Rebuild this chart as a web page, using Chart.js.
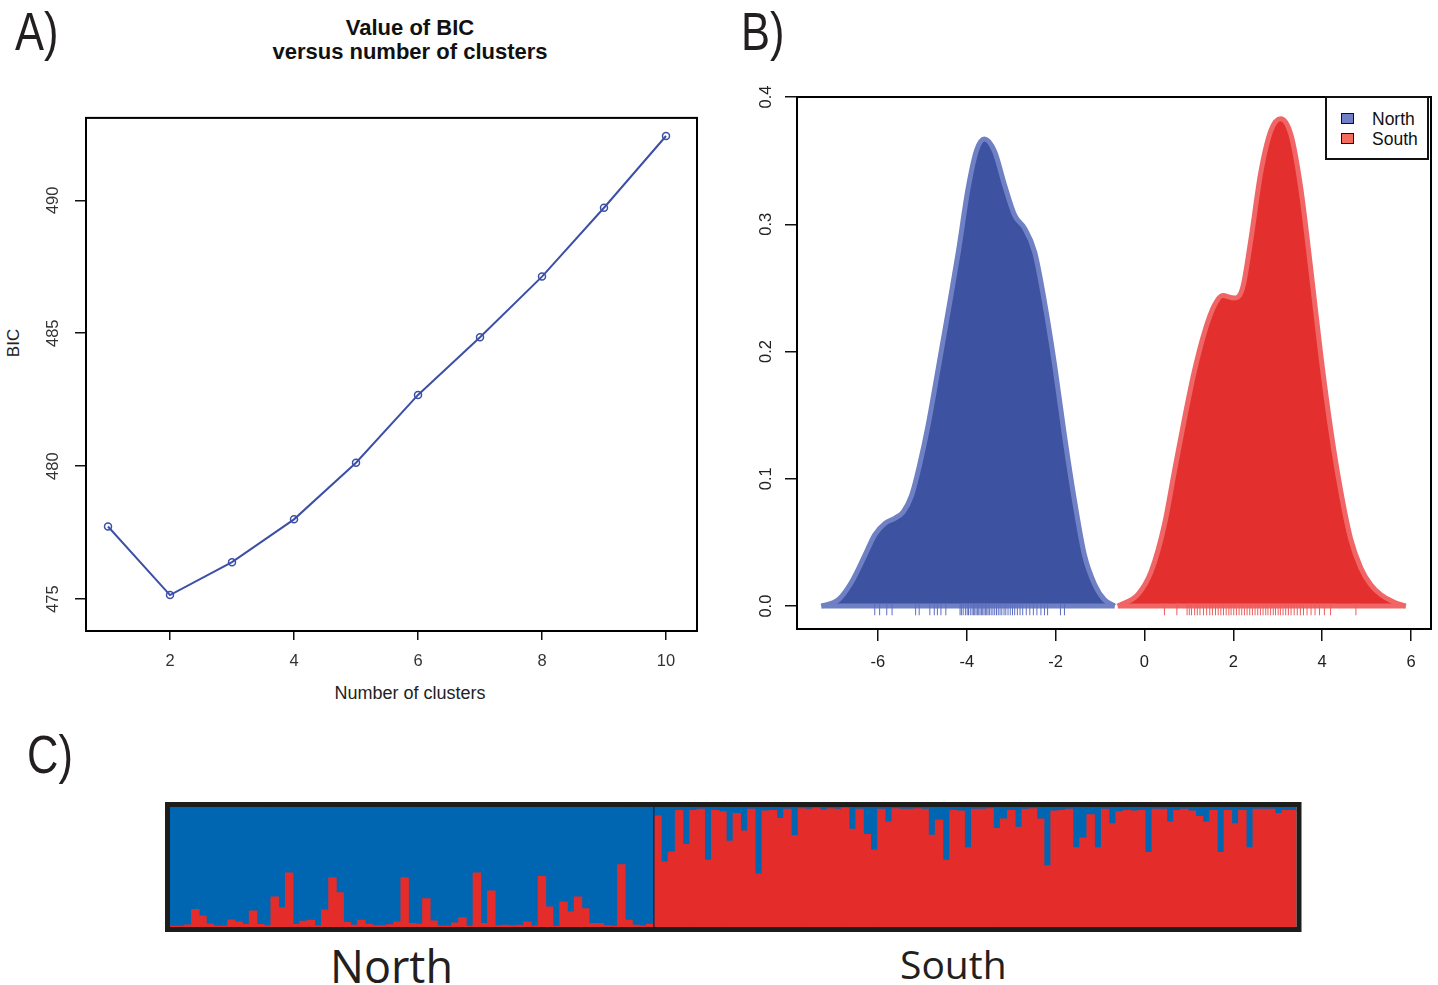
<!DOCTYPE html>
<html>
<head>
<meta charset="utf-8">
<title>BIC, density and ancestry</title>
<script src="https://cdn.jsdelivr.net/npm/chart.js@4.4.1/dist/chart.umd.min.js"></script>
<style>
  body { margin: 0; background: #fff; }
  #page { position: relative; width: 1438px; height: 985px; overflow: hidden; font-family: "Liberation Sans", Arial, sans-serif; color: #111; }
  canvas { position: absolute; }
  .tag { position: absolute; font-size: 53px; line-height: 53px; color: #231f20; transform: scaleX(0.82); transform-origin: left top; }
  .title-a { position: absolute; left: 0; width: 820px; top: 16px; text-align: center; font-weight: bold; font-size: 22px; line-height: 24px; color: #111; }
  .xlab-a { position: absolute; left: 0; width: 820px; top: 684px; text-align: center; font-size: 18px; line-height: 18px; color: #222; }
  .ylab-a { position: absolute; left: -16px; top: 334px; width: 60px; height: 18px; text-align: center; font-size: 17px; line-height: 18px; color: #222; transform: rotate(-90deg); }
  .legend { position: absolute; left: 1325px; top: 96px; width: 100px; height: 60px; border: 2px solid #111; background: #fff; font-size: 17.5px; color: #111; }
  .legend .item { position: absolute; left: 0; height: 20px; line-height: 20px; }
  .legend .sw { position: absolute; left: 14px; top: 4px; width: 11px; height: 9px; border: 1.5px solid #111; }
  .legend .txt { position: absolute; left: 45px; top: 0; white-space: nowrap; }
  .pop { position: absolute; font-family: "Open Sans", sans-serif; color: #231f20; line-height: 1; }
</style>
</head>
<body>
<div id="page">
  <div class="tag" style="left:15px; top:5px;">A)</div>
  <div class="tag" style="left:741px; top:5px;">B)</div>
  <div class="tag" style="left:27px; top:728px;">C)</div>

  <div class="title-a">Value of BIC<br>versus number of clusters</div>
  <div class="xlab-a">Number of clusters</div>
  <div class="ylab-a">BIC</div>

  <canvas id="bicChart" width="720" height="620" style="left:0; top:100px;"></canvas>
  <canvas id="densChart" width="718" height="640" style="left:720px; top:60px;"></canvas>

  <div class="legend">
    <div class="item" style="top:11px;"><span class="sw" style="background:#6f7fc6;"></span><span class="txt">North</span></div>
    <div class="item" style="top:31px;"><span class="sw" style="background:#f26b5b;"></span><span class="txt">South</span></div>
  </div>

  <canvas id="structureChart" width="1150" height="140" style="left:160px; top:795px;"></canvas>

  <div class="pop" style="left:330px; top:943px; font-size:45px;">North</div>
  <div class="pop" style="left:900px; top:944px; font-size:39px;">South</div>
</div>

<script>
// Panel A: BIC per number of clusters
const clusterCounts = [1, 2, 3, 4, 5, 6, 7, 8, 9, 10];
const bicValues = [477.73, 475.15, 476.39, 478.0, 480.13, 482.68, 484.85, 487.13, 489.72, 492.42];
const bicTicksX = [2, 4, 6, 8, 10];
const bicTicksY = [475, 480, 485, 490];

// Panel B: density of the discriminant function per group
const northX = [-7.27, -6.89, -6.59, -6.29, -6.07, -5.84, -5.62, -5.43, -5.24, -5.06, -4.87, -4.64, -4.42, -4.19, -3.97,
  -3.78, -3.6, -3.37, -3.15, -2.92, -2.7, -2.47, -2.25, -2.02, -1.8, -1.57, -1.35, -1.12, -0.9, -0.67];
const northY = [0, 0.005, 0.019, 0.04, 0.056, 0.065, 0.069, 0.074, 0.087, 0.111, 0.142, 0.187, 0.231, 0.278, 0.328,
  0.358, 0.367, 0.357, 0.331, 0.307, 0.297, 0.278, 0.239, 0.189, 0.134, 0.082, 0.04, 0.017, 0.005, 0];
const southX = [-0.6, -0.15, 0.15, 0.45, 0.67, 0.9, 1.12, 1.35, 1.57, 1.76, 2.02, 2.21, 2.4, 2.62,
  2.85, 3.07, 3.3, 3.52, 3.75, 3.97, 4.2, 4.42, 4.64, 4.87, 5.09, 5.32, 5.62, 5.88];
const southY = [0, 0.009, 0.027, 0.064, 0.105, 0.147, 0.184, 0.215, 0.236, 0.244, 0.242, 0.25, 0.289, 0.341,
  0.374, 0.383, 0.37, 0.328, 0.263, 0.197, 0.137, 0.09, 0.053, 0.03, 0.017, 0.009, 0.003, 0];
const northRug = [-6.07, -5.96, -5.8, -5.68, -5.15, -5.07, -4.83, -4.73, -4.66, -4.58, -4.47, -4.15, -4.12, -4.08,
  -4.03, -3.99, -3.96, -3.92, -3.88, -3.85, -3.82, -3.79, -3.76, -3.73, -3.7, -3.67, -3.64, -3.61, -3.58, -3.55,
  -3.52, -3.49, -3.45, -3.41, -3.37, -3.33, -3.29, -3.25, -3.21, -3.16, -3.12, -3.07, -3.02, -2.97, -2.92, -2.86,
  -2.8, -2.74, -2.66, -2.58, -2.5, -2.42, -2.33, -2.25, -2.18, -1.89, -1.8];
const southRug = [0.45, 0.73, 0.96, 1.01, 1.06, 1.13, 1.19, 1.25, 1.33, 1.4, 1.47, 1.53, 1.6, 1.66, 1.72, 1.78,
  1.84, 1.9, 1.95, 2.01, 2.07, 2.13, 2.19, 2.25, 2.31, 2.37, 2.43, 2.49, 2.55, 2.61, 2.67, 2.73, 2.78, 2.84, 2.9,
  2.95, 3.01, 3.06, 3.12, 3.18, 3.24, 3.3, 3.37, 3.44, 3.51, 3.58, 3.66, 3.75, 3.84, 3.94, 4.05, 4.19, 4.76];
const densTicksX = [-6, -4, -2, 0, 2, 4, 6];
const densTicksY = [0, 0.1, 0.2, 0.3, 0.4];

// Panel C: share of the "South" cluster per individual
const northRed = [0.005, 0.005, 0.015, 0.145, 0.09, 0.025, 0.008, 0.005, 0.058, 0.04,
  0.02, 0.133, 0.02, 0.01, 0.25, 0.16, 0.45, 0.02, 0.047, 0.055,
  0.008, 0.14, 0.41, 0.285, 0.036, 0.014, 0.055, 0.022, 0.01, 0.01,
  0.017, 0.04, 0.41, 0.028, 0.025, 0.235, 0.05, 0.008, 0.005, 0.033,
  0.077, 0.005, 0.45, 0.028, 0.3, 0.01, 0.014, 0.01, 0.014, 0.04,
  0.008, 0.42, 0.166, 0.005, 0.207, 0.124, 0.25, 0.152, 0.028, 0.028,
  0.01, 0.005, 0.517, 0.055, 0.014, 0.008, 0.022];
const southRed = [0.925, 0.54, 0.625, 0.97, 0.686, 0.97, 0.98, 0.556, 0.97, 0.96,
  0.714, 0.945, 0.8, 0.98, 0.44, 0.965, 0.97, 0.903, 0.98, 0.76,
  0.985, 0.98, 0.99, 0.975, 0.985, 0.98, 0.99, 0.814, 0.98, 0.77,
  0.64, 0.98, 0.875, 0.985, 0.98, 0.98, 0.985, 0.98, 0.764, 0.89,
  0.556, 0.97, 0.965, 0.66, 0.98, 0.98, 0.985, 0.82, 0.9, 0.97,
  0.83, 0.98, 0.985, 0.9, 0.51, 0.965, 0.97, 0.98, 0.66, 0.74,
  0.935, 0.66, 0.98, 0.86, 0.96, 0.97, 0.965, 0.97, 0.62, 0.98,
  0.98, 0.875, 0.97, 0.98, 0.965, 0.92, 0.875, 0.97, 0.62, 0.97,
  0.86, 0.97, 0.66, 0.98, 0.98, 0.98, 0.945, 0.97, 0.97];

const RUG_LEVEL = -0.0025;

Chart.defaults.font.family = '"Liberation Sans", Arial, sans-serif';
Chart.defaults.animation = false;

// box around the plot region, like R's bty="o"
const framePlugin = {
  id: "frame",
  afterDraw(chart, args, opts) {
    const { ctx, chartArea: a } = chart;
    const w = opts.width || 2;
    const off = opts.outside ? w / 2 : 0;
    ctx.save();
    ctx.strokeStyle = opts.color || "#000";
    ctx.lineWidth = w;
    ctx.strokeRect(a.left - off, a.top - off, a.width + 2 * off, a.height + 2 * off);
    ctx.restore();
  },
};

// thin line between the North and South blocks
const dividerPlugin = {
  id: "divider",
  afterDatasetsDraw(chart, args, opts) {
    if (!opts.after) return;
    const xs = chart.scales.x;
    const a = chart.chartArea;
    const px = (xs.getPixelForValue(opts.after - 1) + xs.getPixelForValue(opts.after)) / 2;
    const ctx = chart.ctx;
    ctx.save();
    ctx.strokeStyle = "#1c2a4a";
    ctx.lineWidth = 1.5;
    ctx.beginPath();
    ctx.moveTo(px, a.top);
    ctx.lineTo(px, a.bottom);
    ctx.stroke();
    ctx.restore();
  },
};

function tickGrid(len) {
  return { drawOnChartArea: false, drawTicks: true, tickLength: len, tickColor: "#111", lineWidth: 1.5 };
}

function renderBicChart() {
  new Chart(document.getElementById("bicChart"), {
    type: "line",
    data: {
      datasets: [
        {
          data: clusterCounts.map((k, i) => ({ x: k, y: bicValues[i] })),
          borderColor: "#3c4fa6",
          borderWidth: 2,
          pointRadius: 3.5,
          pointBorderWidth: 1.5,
          pointBackgroundColor: "rgba(255,255,255,0)",
          pointBorderColor: "#3c4fa6",
          tension: 0,
        },
      ],
    },
    options: {
      responsive: false,
      events: [],
      layout: { padding: { top: 15, right: 23, left: 0, bottom: 0 } },
      plugins: { legend: { display: false }, tooltip: { enabled: false }, frame: { width: 2 } },
      scales: {
        x: {
          type: "linear",
          min: 0.645,
          max: 10.5,
          afterBuildTicks: (s) => { s.ticks = bicTicksX.map((v) => ({ value: v })); },
          afterFit: (s) => { s.height = 89; },
          grid: tickGrid(9),
          border: { display: false },
          ticks: { padding: 12, font: { size: 16.5 }, color: "#333", maxRotation: 0, autoSkip: false },
        },
        y: {
          min: 473.8,
          max: 493.1,
          afterBuildTicks: (s) => { s.ticks = bicTicksY.map((v) => ({ value: v })); },
          afterFit: (s) => { s.width = 86; },
          grid: tickGrid(11),
          border: { display: false },
          ticks: { padding: 8, font: { size: 16.5 }, color: "#333", minRotation: 90, maxRotation: 90, crossAlign: "center", autoSkip: false },
        },
      },
    },
    plugins: [framePlugin],
  });
}

function renderDensityChart() {
  const northLine = "#6f80c4";
  const southLine = "#f06565";
  const baseline = (xs) => [{ x: xs[0], y: 0 }, { x: xs[xs.length - 1], y: 0 }];

  new Chart(document.getElementById("densChart"), {
    type: "line",
    data: {
      datasets: [
        {
          data: northRug.map((x) => ({ x, y: RUG_LEVEL })),
          showLine: false,
          pointStyle: "line",
          pointRotation: 90,
          pointRadius: 6,
          pointBorderWidth: 1,
          pointBorderColor: "#5b6dbf",
          order: 0,
        },
        {
          data: southRug.map((x) => ({ x, y: RUG_LEVEL })),
          showLine: false,
          pointStyle: "line",
          pointRotation: 90,
          pointRadius: 6,
          pointBorderWidth: 1,
          pointBorderColor: "#ee5b5b",
          order: 0,
        },
        { data: baseline(northX), borderColor: northLine, borderWidth: 5, pointRadius: 0, fill: false, order: 1 },
        { data: baseline(southX), borderColor: southLine, borderWidth: 5, pointRadius: 0, fill: false, order: 1 },
        {
          label: "North",
          data: northX.map((x, i) => ({ x, y: northY[i] })),
          borderColor: northLine,
          backgroundColor: "#3d52a0",
          borderWidth: 5,
          fill: "origin",
          pointRadius: 0,
          cubicInterpolationMode: "monotone",
          order: 2,
        },
        {
          label: "South",
          data: southX.map((x, i) => ({ x, y: southY[i] })),
          borderColor: southLine,
          backgroundColor: "#e3302e",
          borderWidth: 5,
          fill: "origin",
          pointRadius: 0,
          cubicInterpolationMode: "monotone",
          order: 2,
        },
      ],
    },
    options: {
      responsive: false,
      events: [],
      layout: { padding: { top: 37, right: 6, left: 0, bottom: 0 } },
      plugins: { legend: { display: false }, tooltip: { enabled: false }, frame: { width: 2 } },
      scales: {
        x: {
          type: "linear",
          min: -7.82,
          max: 6.45,
          afterBuildTicks: (s) => { s.ticks = densTicksX.map((v) => ({ value: v })); },
          afterFit: (s) => { s.height = 71; },
          grid: tickGrid(12),
          border: { display: false },
          ticks: { padding: 12, font: { size: 16.5 }, color: "#222", maxRotation: 0, autoSkip: false, callback: (v) => String(v) },
        },
        y: {
          min: -0.018,
          max: 0.4,
          afterBuildTicks: (s) => { s.ticks = densTicksY.map((v) => ({ value: v })); },
          afterFit: (s) => { s.width = 77; },
          grid: tickGrid(12),
          border: { display: false },
          ticks: {
            padding: 7, font: { size: 16.5 }, color: "#222", minRotation: 90, maxRotation: 90,
            crossAlign: "center", autoSkip: false, callback: (v) => Number(v).toFixed(1),
          },
        },
      },
    },
    plugins: [framePlugin],
  });
}

function renderStructureChart() {
  const redShare = northRed.concat(southRed);
  const blueShare = redShare.map((v) => 1 - v);
  const individuals = redShare.map((v, i) => (i < northRed.length ? "N" + (i + 1) : "S" + (i - northRed.length + 1)));

  new Chart(document.getElementById("structureChart"), {
    type: "bar",
    data: {
      labels: individuals,
      datasets: [
        { label: "South cluster", data: redShare, backgroundColor: "#e42d2b", borderWidth: 0, inflateAmount: 0.6, barPercentage: 1, categoryPercentage: 1 },
        { label: "North cluster", data: blueShare, backgroundColor: "#0066b1", borderWidth: 0, inflateAmount: 0.6, barPercentage: 1, categoryPercentage: 1 },
      ],
    },
    options: {
      responsive: false,
      events: [],
      layout: { padding: { left: 10, top: 12, right: 13.5, bottom: 8 } },
      plugins: {
        legend: { display: false },
        tooltip: { enabled: false },
        frame: { width: 5, outside: true, color: "#1d1d1b" },
        divider: { after: northRed.length },
      },
      scales: {
        x: { display: false, stacked: true },
        y: { display: false, stacked: true, min: 0, max: 1 },
      },
    },
    plugins: [framePlugin, dividerPlugin],
  });
}

document.addEventListener("DOMContentLoaded", () => {
  renderBicChart();
  renderDensityChart();
  renderStructureChart();
});
</script>
</body>
</html>
